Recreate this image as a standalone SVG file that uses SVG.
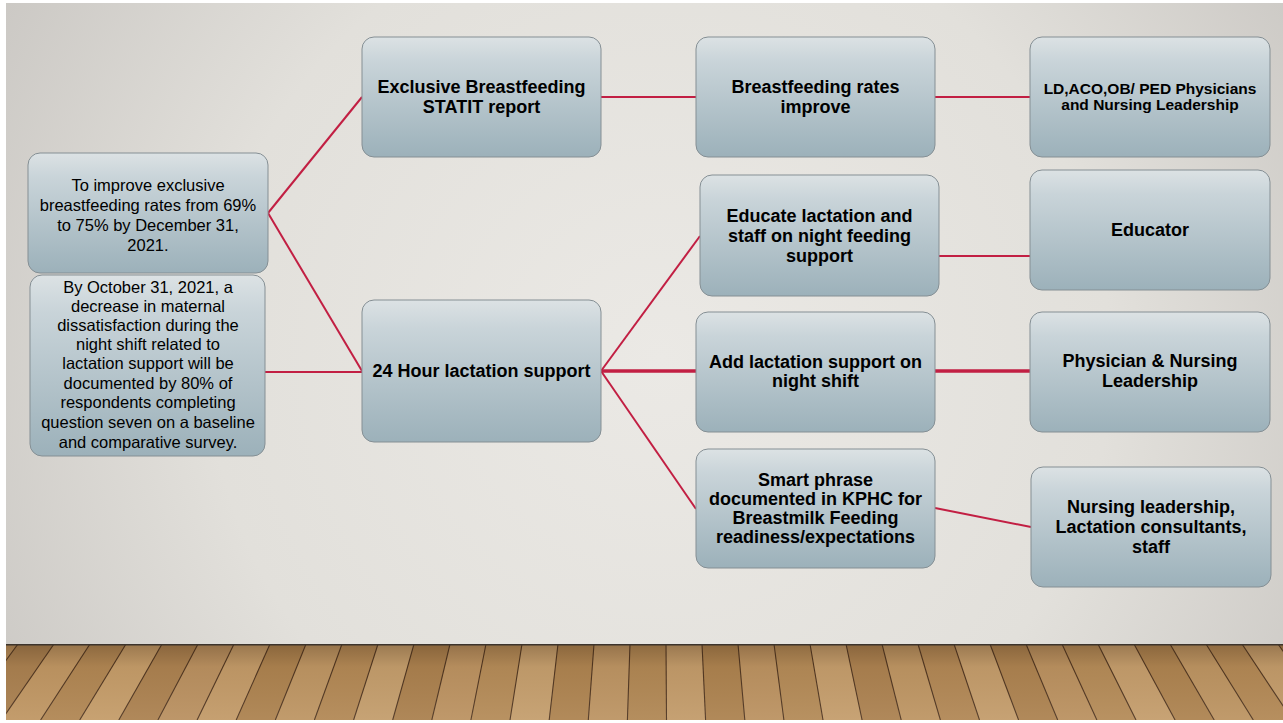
<svg xmlns="http://www.w3.org/2000/svg" width="1283" height="723" viewBox="0 0 1283 723">
<defs>
<radialGradient id="bg" cx="660" cy="360" r="820" gradientUnits="userSpaceOnUse">
<stop offset="0" stop-color="#ebe9e5"/>
<stop offset="0.55" stop-color="#e2e0db"/>
<stop offset="1" stop-color="#c6c3bf"/>
</radialGradient>
<linearGradient id="box" x1="0" y1="0" x2="0" y2="1">
<stop offset="0" stop-color="#dce2e4"/>
<stop offset="0.2" stop-color="#c9d4d9"/>
<stop offset="1" stop-color="#9cb1ba"/>
</linearGradient>
<linearGradient id="floorShade" x1="0" y1="0" x2="0" y2="1">
<stop offset="0" stop-color="#3a2410" stop-opacity="0.3"/>
<stop offset="0.3" stop-color="#3a2410" stop-opacity="0.05"/>
<stop offset="1" stop-color="#ffffff" stop-opacity="0.06"/>
</linearGradient>
<clipPath id="floorClip"><rect x="6" y="644" width="1277" height="76"/></clipPath>
<style>
.node rect{fill:url(#box);stroke:#858f94;stroke-width:1}
.t{font-family:"Liberation Sans",Arial,sans-serif;fill:#000;text-anchor:middle}
.b{font-weight:bold;font-size:18px}
.s{font-weight:bold;font-size:15.5px}
.r{font-size:16.5px}
.conn line{stroke:#c21f43;stroke-width:2;fill:none}
.conn line.thick{stroke-width:3.5}
.plankline{stroke:#4f3520;stroke-width:1.1}
</style>
</defs>
<rect x="0" y="0" width="1283" height="723" fill="#ffffff"/>
<rect x="6" y="3" width="1277" height="641" fill="url(#bg)"/>
<g id="floor" clip-path="url(#floorClip)">
<rect x="6" y="644" width="1277" height="76" fill="#b48a58"/>
<polygon points="-54,644 -18,644 -76.8,720 -115.9,720" fill="#ad8351"/>
<polygon points="-18,644 18,644 -37.7,720 -76.8,720" fill="#b98f5c"/>
<polygon points="18,644 54,644 1.5,720 -37.7,720" fill="#a98050"/>
<polygon points="54,644 90,644 40.6,720 1.5,720" fill="#bf9663"/>
<polygon points="90,644 126,644 79.7,720 40.6,720" fill="#b08653"/>
<polygon points="126,644 162,644 118.8,720 79.7,720" fill="#c49c69"/>
<polygon points="162,644 198,644 157.9,720 118.8,720" fill="#ab8150"/>
<polygon points="198,644 234,644 197.1,720 157.9,720" fill="#b99060"/>
<polygon points="234,644 270,644 236.2,720 197.1,720" fill="#c29a68"/>
<polygon points="270,644 306,644 275.3,720 236.2,720" fill="#ac824f"/>
<polygon points="306,644 342,644 314.4,720 275.3,720" fill="#bd9563"/>
<polygon points="342,644 378,644 353.6,720 314.4,720" fill="#b28855"/>
<polygon points="378,644 414,644 392.7,720 353.6,720" fill="#c39d6c"/>
<polygon points="414,644 450,644 431.8,720 392.7,720" fill="#aa804e"/>
<polygon points="450,644 486,644 470.9,720 431.8,720" fill="#bb9261"/>
<polygon points="486,644 522,644 510,720 470.9,720" fill="#b48b58"/>
<polygon points="522,644 558,644 549.2,720 510,720" fill="#c49e6d"/>
<polygon points="558,644 594,644 588.3,720 549.2,720" fill="#ad8350"/>
<polygon points="594,644 630,644 627.4,720 588.3,720" fill="#bc9463"/>
<polygon points="630,644 666,644 666.5,720 627.4,720" fill="#b08754"/>
<polygon points="666,644 702,644 705.6,720 666.5,720" fill="#c29b6a"/>
<polygon points="702,644 738,644 744.8,720 705.6,720" fill="#ac824f"/>
<polygon points="738,644 774,644 783.9,720 744.8,720" fill="#bb9261"/>
<polygon points="774,644 810,644 823,720 783.9,720" fill="#b38a57"/>
<polygon points="810,644 846,644 862.1,720 823,720" fill="#c49d6c"/>
<polygon points="846,644 882,644 901.2,720 862.1,720" fill="#ab8150"/>
<polygon points="882,644 918,644 940.4,720 901.2,720" fill="#bd9563"/>
<polygon points="918,644 954,644 979.5,720 940.4,720" fill="#b18755"/>
<polygon points="954,644 990,644 1018.6,720 979.5,720" fill="#c39c6b"/>
<polygon points="990,644 1026,644 1057.7,720 1018.6,720" fill="#ac8250"/>
<polygon points="1026,644 1062,644 1096.9,720 1057.7,720" fill="#ba9160"/>
<polygon points="1062,644 1098,644 1136,720 1096.9,720" fill="#b48b58"/>
<polygon points="1098,644 1134,644 1175.1,720 1136,720" fill="#c49d6c"/>
<polygon points="1134,644 1170,644 1214.2,720 1175.1,720" fill="#ad8350"/>
<polygon points="1170,644 1206,644 1253.3,720 1214.2,720" fill="#bc9462"/>
<polygon points="1206,644 1242,644 1292.5,720 1253.3,720" fill="#b28855"/>
<polygon points="1242,644 1278,644 1331.6,720 1292.5,720" fill="#c29b6a"/>
<polygon points="1278,644 1314,644 1370.7,720 1331.6,720" fill="#ac824f"/>
<g class="plankline">
<line x1="-18" y1="644" x2="-76.8" y2="720"/><line x1="18" y1="644" x2="-37.7" y2="720"/>
<line x1="54" y1="644" x2="1.5" y2="720"/><line x1="90" y1="644" x2="40.6" y2="720"/>
<line x1="126" y1="644" x2="79.7" y2="720"/><line x1="162" y1="644" x2="118.8" y2="720"/>
<line x1="198" y1="644" x2="157.9" y2="720"/><line x1="234" y1="644" x2="197.1" y2="720"/>
<line x1="270" y1="644" x2="236.2" y2="720"/><line x1="306" y1="644" x2="275.3" y2="720"/>
<line x1="342" y1="644" x2="314.4" y2="720"/><line x1="378" y1="644" x2="353.6" y2="720"/>
<line x1="414" y1="644" x2="392.7" y2="720"/><line x1="450" y1="644" x2="431.8" y2="720"/>
<line x1="486" y1="644" x2="470.9" y2="720"/><line x1="522" y1="644" x2="510" y2="720"/>
<line x1="558" y1="644" x2="549.2" y2="720"/><line x1="594" y1="644" x2="588.3" y2="720"/>
<line x1="630" y1="644" x2="627.4" y2="720"/><line x1="666" y1="644" x2="666.5" y2="720"/>
<line x1="702" y1="644" x2="705.6" y2="720"/><line x1="738" y1="644" x2="744.8" y2="720"/>
<line x1="774" y1="644" x2="783.9" y2="720"/><line x1="810" y1="644" x2="823" y2="720"/>
<line x1="846" y1="644" x2="862.1" y2="720"/><line x1="882" y1="644" x2="901.2" y2="720"/>
<line x1="918" y1="644" x2="940.4" y2="720"/><line x1="954" y1="644" x2="979.5" y2="720"/>
<line x1="990" y1="644" x2="1018.6" y2="720"/><line x1="1026" y1="644" x2="1057.7" y2="720"/>
<line x1="1062" y1="644" x2="1096.9" y2="720"/><line x1="1098" y1="644" x2="1136" y2="720"/>
<line x1="1134" y1="644" x2="1175.1" y2="720"/><line x1="1170" y1="644" x2="1214.2" y2="720"/>
<line x1="1206" y1="644" x2="1253.3" y2="720"/><line x1="1242" y1="644" x2="1292.5" y2="720"/>
<line x1="1278" y1="644" x2="1331.6" y2="720"/>
</g>
<rect x="6" y="644" width="1277" height="76" fill="url(#floorShade)"/>
<rect x="6" y="643" width="1277" height="2.5" fill="#3d342c"/>
</g>
<g class="conn" id="connectors">
<line x1="268" y1="213" x2="362" y2="97"/>
<line x1="268" y1="213" x2="362" y2="371"/>
<line x1="265" y1="372" x2="362" y2="372"/>
<line x1="601" y1="97" x2="696" y2="97"/>
<line x1="935" y1="97" x2="1030" y2="97"/>
<line x1="601" y1="371" x2="700" y2="236"/>
<line class="thick" x1="601" y1="371" x2="696" y2="371"/>
<line x1="601" y1="371" x2="696" y2="509"/>
<line x1="939" y1="256" x2="1030" y2="256"/>
<line class="thick" x1="935" y1="371" x2="1030" y2="371"/>
<line x1="935" y1="508" x2="1031" y2="527"/>
</g>
<g class="node" id="goal1">
<rect x="28" y="153" width="240" height="120" rx="12"/>
<text class="t r"><tspan x="148" y="191">To improve exclusive</tspan><tspan x="148" y="211">breastfeeding rates from 69%</tspan><tspan x="148" y="231">to 75% by December 31,</tspan><tspan x="148" y="251">2021.</tspan></text>
</g>
<g class="node" id="goal2">
<rect x="30" y="275" width="235" height="181" rx="12"/>
<text class="t r"><tspan x="148" y="293">By October 31, 2021, a</tspan><tspan x="148" y="312">decrease in maternal</tspan><tspan x="148" y="331">dissatisfaction during the</tspan><tspan x="148" y="350">night shift related to</tspan><tspan x="148" y="369">lactation support will be</tspan><tspan x="148" y="389">documented by 80% of</tspan><tspan x="148" y="408">respondents completing</tspan><tspan x="148" y="428">question seven on a baseline</tspan><tspan x="148" y="448">and comparative survey.</tspan></text>
</g>
<g class="node" id="statit">
<rect x="362" y="37" width="239" height="120" rx="12"/>
<text class="t b"><tspan x="481.5" y="93">Exclusive Breastfeeding</tspan><tspan x="481.5" y="113">STATIT report</tspan></text>
</g>
<g class="node" id="rates">
<rect x="696" y="37" width="239" height="120" rx="12"/>
<text class="t b"><tspan x="815.5" y="93">Breastfeeding rates</tspan><tspan x="815.5" y="113">improve</tspan></text>
</g>
<g class="node" id="leaders">
<rect x="1030" y="37" width="240" height="120" rx="12"/>
<text class="t s"><tspan x="1150" y="94">LD,ACO,OB/ PED Physicians</tspan><tspan x="1150" y="110">and Nursing Leadership</tspan></text>
</g>
<g class="node" id="support24">
<rect x="362" y="300" width="239" height="142" rx="12"/>
<text class="t b" x="481.5" y="377">24 Hour lactation support</text>
</g>
<g class="node" id="educate">
<rect x="700" y="175" width="239" height="121" rx="12"/>
<text class="t b"><tspan x="819.5" y="222">Educate lactation and</tspan><tspan x="819.5" y="242">staff on night feeding</tspan><tspan x="819.5" y="262">support</tspan></text>
</g>
<g class="node" id="educator">
<rect x="1030" y="170" width="240" height="120" rx="12"/>
<text class="t b" x="1150" y="236">Educator</text>
</g>
<g class="node" id="addnight">
<rect x="696" y="312" width="239" height="120" rx="12"/>
<text class="t b"><tspan x="815.5" y="368">Add lactation support on</tspan><tspan x="815.5" y="387">night shift</tspan></text>
</g>
<g class="node" id="physnursing">
<rect x="1030" y="312" width="240" height="120" rx="12"/>
<text class="t b"><tspan x="1150" y="367">Physician &amp; Nursing</tspan><tspan x="1150" y="387">Leadership</tspan></text>
</g>
<g class="node" id="smart">
<rect x="696" y="449" width="239" height="119" rx="12"/>
<text class="t b"><tspan x="815.5" y="486">Smart phrase</tspan><tspan x="815.5" y="505">documented in KPHC for</tspan><tspan x="815.5" y="524">Breastmilk Feeding</tspan><tspan x="815.5" y="543">readiness/expectations</tspan></text>
</g>
<g class="node" id="nursinglact">
<rect x="1031" y="467" width="240" height="120" rx="12"/>
<text class="t b"><tspan x="1151" y="513">Nursing leadership,</tspan><tspan x="1151" y="533">Lactation consultants,</tspan><tspan x="1151" y="553">staff</tspan></text>
</g>
</svg>
